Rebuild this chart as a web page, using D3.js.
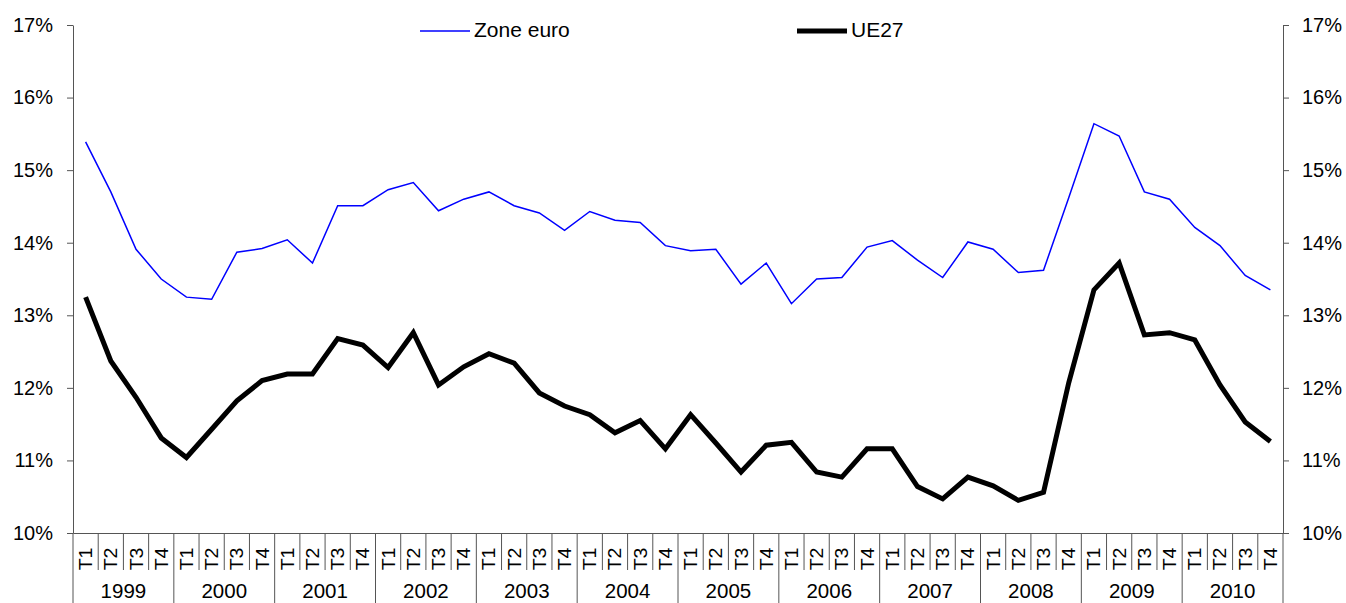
<!DOCTYPE html>
<html>
<head>
<meta charset="utf-8">
<script src="https://cdn.jsdelivr.net/npm/d3@7"></script>
<style>
  body { margin: 0; background: #fff; }
  svg { display: block; font-family: "Liberation Sans", Arial, sans-serif; }
  .axis path, .axis line { stroke: #555; }
  .axis text { fill: #000; font-size: 20px; }
</style>
</head>
<body>
<svg id="chart" width="1346" height="603"></svg>
<script>
"use strict"

var years = ["1999", "2000", "2001", "2002", "2003", "2004", "2005", "2006", "2007", "2008", "2009", "2010"];
var quarters = ["T1", "T2", "T3", "T4"];

// taux trimestriels, zone euro
var zoneEuro = [
    15.39, 14.70, 13.91, 13.50,
    13.25, 13.22, 13.87, 13.92,
    14.04, 13.72, 14.51, 14.51,
    14.73, 14.83, 14.44, 14.60,
    14.70, 14.51, 14.41, 14.17,
    14.43, 14.31, 14.28, 13.96,
    13.89, 13.91, 13.43, 13.72,
    13.16, 13.50, 13.52, 13.94,
    14.03, 13.76, 13.52, 14.01,
    13.91, 13.59, 13.62, 14.62,
    15.64, 15.47, 14.70, 14.60,
    14.21, 13.96, 13.55, 13.35
];

// UE27
var ue27 = [
    13.25, 12.37, 11.87, 11.31,
    11.04, 11.43, 11.82, 12.10,
    12.19, 12.19, 12.68, 12.59,
    12.28, 12.76, 12.04, 12.29,
    12.47, 12.34, 11.93, 11.75,
    11.63, 11.38, 11.55, 11.16,
    11.63, 11.24, 10.84, 11.21,
    11.25, 10.84, 10.77, 11.16,
    11.16, 10.64, 10.47, 10.77,
    10.65, 10.45, 10.56, 12.07,
    13.35, 13.72, 12.73, 12.76,
    12.66, 12.04, 11.53, 11.26
];

var yTicks = [10, 11, 12, 13, 14, 15, 16, 17];

var margin = { top: 25, right: 63, bottom: 70, left: 73 };

var svg = d3.select("#chart"),
    width = +svg.attr("width") - margin.left - margin.right,
    height = +svg.attr("height") - margin.top - margin.bottom;

var keys = [];
years.forEach(function(yr) {
    quarters.forEach(function(q) { keys.push(yr + "-" + q); });
});

var xScale = d3.scaleBand().domain(keys).range([0, width]);
var yScale = d3.scaleLinear().domain([10, 17]).range([height, 0]);

var g = svg.append("g")
    .attr("transform", "translate(" + margin.left + "," + margin.top + ")");

// axes verticaux
g.append("g")
    .attr("class", "axis")
    .call(d3.axisLeft(yScale).tickValues(yTicks).tickSize(6).tickSizeOuter(0).tickPadding(14)
        .tickFormat(function(d) { return d + "%"; }));

g.append("g")
    .attr("class", "axis")
    .attr("transform", "translate(" + width + ",0)")
    .call(d3.axisRight(yScale).tickValues(yTicks).tickSize(6).tickSizeOuter(0).tickPadding(13)
        .tickFormat(function(d) { return d + "%"; }));

// axe horizontal
var xAxis = g.append("g")
    .attr("class", "axis")
    .attr("transform", "translate(0," + height + ")")
    .call(d3.axisBottom(xScale).tickSize(0).tickSizeOuter(0)
        .tickFormat(function(d) { return d.split("-")[1]; }));

xAxis.selectAll(".tick text")
    .attr("text-anchor", "middle")
    .attr("dy", null)
    .attr("y", null)
    .attr("transform", "translate(6.5,26) rotate(-90) scale(1,0.92)")
    .style("font-size", "19.5px");

// separateurs trimestres / annees
var bottom = +svg.attr("height") - margin.top;
g.append("g")
    .selectAll("line")
    .data(keys.concat(["end"]))
    .join("line")
    .attr("x1", function(d, i) { return i < keys.length ? xScale(d) : width; })
    .attr("x2", function(d, i) { return i < keys.length ? xScale(d) : width; })
    .attr("y1", height)
    .attr("y2", function(d, i) { return i % 4 === 0 ? bottom : height + 37; })
    .attr("stroke", "#555")
    .attr("stroke-width", 1);

g.append("g")
    .selectAll("text")
    .data(years)
    .join("text")
    .attr("x", function(d) { return xScale(d + "-T1") + xScale.bandwidth() * 2; })
    .attr("y", height + 65)
    .attr("text-anchor", "middle")
    .style("font-size", "20.5px")
    .text(function(d) { return d; });

// courbes
var line = d3.line()
    .x(function(d, i) { return xScale(keys[i]) + xScale.bandwidth() / 2; })
    .y(function(d) { return yScale(d); });

g.append("path")
    .datum(zoneEuro)
    .attr("fill", "none")
    .attr("stroke", "#0000ff")
    .attr("stroke-width", 1.5)
    .attr("d", line);

g.append("path")
    .datum(ue27)
    .attr("fill", "none")
    .attr("stroke", "#000")
    .attr("stroke-width", 5)
    .attr("stroke-linejoin", "miter")
    .attr("d", line);

// legende
var legend = [
    { name: "Zone euro", color: "#0000ff", w: 1.5, x: 420 },
    { name: "UE27", color: "#000", w: 5, x: 797 }
];
var lg = svg.append("g");
legend.forEach(function(l) {
    lg.append("line")
        .attr("x1", l.x).attr("x2", l.x + 50)
        .attr("y1", 31).attr("y2", 31)
        .attr("stroke", l.color)
        .attr("stroke-width", l.w);
    lg.append("text")
        .attr("x", l.x + 54)
        .attr("y", 37)
        .style("font-size", "21px")
        .text(l.name);
});
</script>
</body>
</html>
